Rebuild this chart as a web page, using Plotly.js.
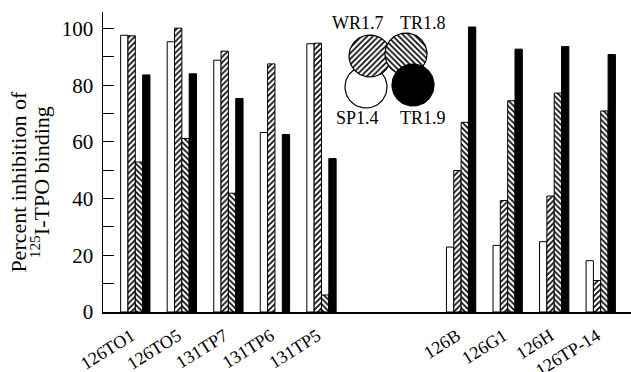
<!DOCTYPE html>
<html>
<head>
<meta charset="utf-8">
<script src="https://cdn.plot.ly/plotly-3.0.1.min.js"></script>
<style>html,body{margin:0;padding:0;background:#fff;}#chart{width:631px;height:372px;}</style>
</head>
<body>
<div id="chart"></div>
<script>
// ---- data ----
const categories = ["126TO1","126TO5","131TP7","131TP6","131TP5","126B","126G1","126H","126TP-14"];
const sp14 = [97.6, 95.3, 88.8, 63.3, 94.6, 22.9, 23.5, 24.8, 18.1];
const wr17 = [97.4, 100.1, 92.0, 87.5, 94.8, 49.9, 39.3, 40.9, 11.1];
const tr18 = [52.9, 61.2, 41.9, null, 6.0, 66.9, 74.5, 77.2, 70.9];
const tr19 = [83.6, 84.0, 75.3, 62.6, 54.1, 100.5, 92.7, 93.6, 90.8];
const seriesNames = ["SP1.4","WR1.7","TR1.8","TR1.9"];
const yTickVals = [0,10,20,30,40,50,60,70,80,90,100];
const yTickText = ["0","","20","","40","","60","","80","","100"];

// two blank slots between the two groups of antibodies
const xPos = categories.map((c,i) => i < 5 ? i : i + 2);

const FONT = "Liberation Serif";
const outline = {color:"black", width:1};
const hatchA = {shape:"/", fgcolor:"black", bgcolor:"white", size:4, solidity:0.4};
const hatchB = {shape:"\\", fgcolor:"black", bgcolor:"white", size:4, solidity:0.4};

function barTrace(vals, name, marker){
  return {type:"bar", x:xPos, y:vals, name:name, showlegend:false,
          marker:Object.assign({line:outline}, marker), hoverinfo:"skip"};
}
const traces = [
  barTrace(sp14, seriesNames[0], {color:"white"}),
  barTrace(wr17, seriesNames[1], {color:"white", pattern:hatchA}),
  barTrace(tr18, seriesNames[2], {color:"white", pattern:hatchB}),
  barTrace(tr19, seriesNames[3], {color:"black"})
];

// ---- key: overlapping circles drawn on a pixel-scaled overlay axis ----
function keyCircle(cx, cy, fill, pattern){
  const xs=[], ys=[], r=21;
  for(let k=0;k<=72;k++){const a=k/72*2*Math.PI; xs.push(cx+r*Math.cos(a)); ys.push(cy+r*Math.sin(a));}
  const t = {type:"scatter", mode:"lines", x:xs, y:ys, xaxis:"x2", yaxis:"y2",
    fill:"toself", fillcolor:fill, line:{color:"black", width:1.2}, showlegend:false, hoverinfo:"skip"};
  if(pattern) t.fillpattern = pattern;
  return t;
}
traces.push(keyCircle(366, 87, "white"));
traces.push(keyCircle(370, 56, "white", hatchA));
traces.push(keyCircle(406, 54, "white", hatchB));
traces.push(keyCircle(413, 85, "black"));

const keyLabels = [
  {text:seriesNames[1], x:358, y:23},
  {text:seriesNames[2], x:423, y:23},
  {text:seriesNames[0], x:357, y:118},
  {text:seriesNames[3], x:423, y:118}
].map(o => ({text:o.text, x:o.x, y:o.y, xref:"x2", yref:"y2", showarrow:false,
             font:{family:FONT, size:18, color:"black"}, xanchor:"center", yanchor:"middle"}));

const layout = {
  width:631, height:372,
  margin:{l:103, r:0, t:12, b:60},
  paper_bgcolor:"white", plot_bgcolor:"white",
  barmode:"group", bargap:0.37, bargroupgap:0,
  showlegend:false,
  font:{family:FONT, color:"black"},
  xaxis:{range:[-0.694, 10.65], tickvals:xPos, ticktext:categories, tickangle:-32,
         showline:true, linecolor:"black", linewidth:1.5, ticks:"", showgrid:false, zeroline:false,
         tickfont:{family:FONT, size:18, color:"black"}, ticklabelstandoff:5, ticklabelshift:-4},
  yaxis:{range:[0, 105.8], tickvals:yTickVals, ticktext:yTickText, showline:true, linecolor:"black", linewidth:1.5,
         ticks:"inside", ticklen:11, tickcolor:"black", tickwidth:1,
         showgrid:false, zeroline:false, tickfont:{family:FONT, size:21, color:"black"}, ticklabelstandoff:4},
  xaxis2:{overlaying:"x", range:[103, 631], visible:false, fixedrange:true},
  yaxis2:{overlaying:"y", range:[312, 12], visible:false, fixedrange:true},
  annotations: keyLabels.concat([
    {text:"Percent inhibition of", xref:"paper", yref:"paper", x:-0.16, y:0.433, textangle:-90,
     showarrow:false, xanchor:"center", yanchor:"middle", font:{family:FONT, size:22, color:"black"}},
    {text:"<sup>125</sup>I-TPO binding", xref:"paper", yref:"paper", x:-0.119, y:0.433, textangle:-90,
     showarrow:false, xanchor:"center", yanchor:"middle", font:{family:FONT, size:22, color:"black"}}
  ])
};

Plotly.newPlot("chart", traces, layout, {staticPlot:true, displayModeBar:false});
</script>
</body>
</html>
